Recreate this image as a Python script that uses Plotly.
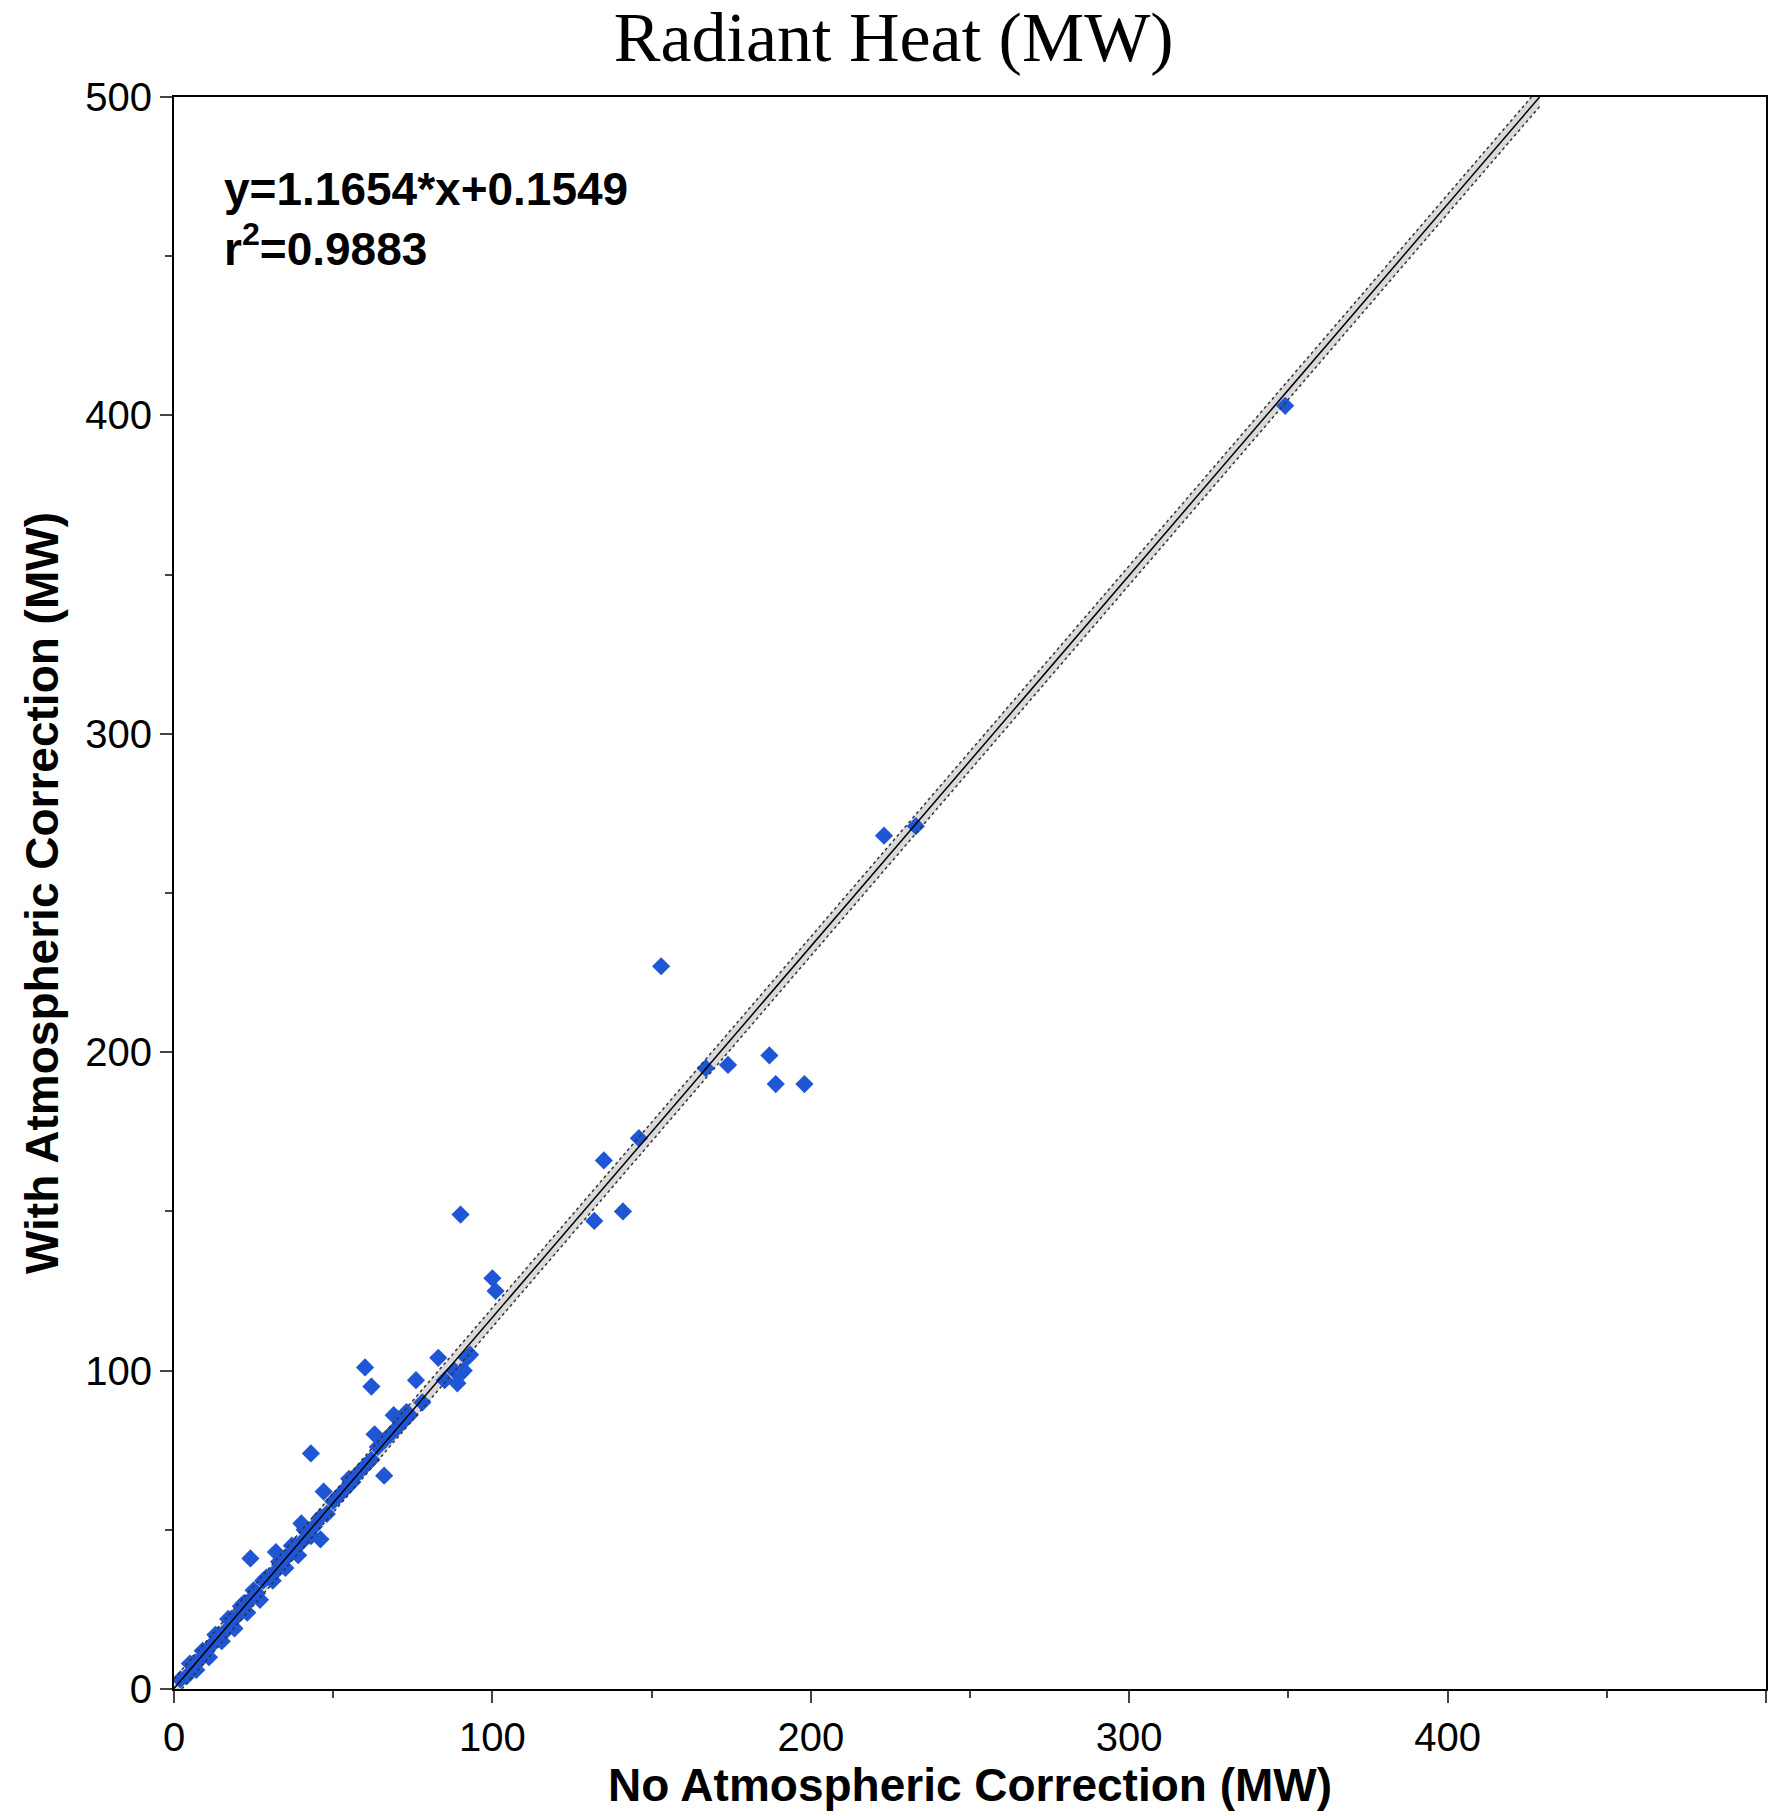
import plotly.graph_objects as go

cloud_x = [2,4,6,8,10,12,14,16,18,20,
           22,24,26,28,30,32,34,36,38,40,
           42,44,46,48,50,52,54,56,58,60,
           62,64,66,68,70,72,74,78,88,92,
           5,9,13,17,21,25,29,33,37,41,
           7,11,15,19,23,27,31,35,39,43,
           24,32,40,47,55,63,69,73,89,90]
cloud_y = [3,4,8,9,12,14,17,18,22,23,
           27,28,30,34,35,37,40,42,45,46,
           50,51,54,55,59,61,63,65,68,70,
           72,76,78,80,82,84,86,90,100,104,
           8,12,17,22,26,31,35,40,45,50,
           6,10,15,19,24,28,34,38,42,48,
           41,43,52,62,66,80,86,87,96,99]
out_x = [349,223,233,153,167,174,187,189,198,146,135,132,141,90,100,101,93,91,83,60,62,43,46,66,76,85]
out_y = [403,268,271,227,195,196,199,190,190,173,166,147,150,149,129,125,105,100,104,101,95,74,47,67,97,97]

slope = 1.1654
intercept = 0.1549
tick_vals = [0,100,200,300,400,500]

fit_x = [0, (500-intercept)/slope]
fit_y = [intercept + slope*v for v in fit_x]
band = 3.0

fig = go.Figure()
fig.add_trace(go.Scatter(x=fit_x+fit_x[::-1], y=[v+band for v in fit_y]+[v-band for v in fit_y[::-1]],
                         fill='toself', fillcolor='rgba(180,180,180,0.5)', line=dict(width=0), mode='lines', hoverinfo='skip'))
fig.add_trace(go.Scatter(x=cloud_x+out_x, y=cloud_y+out_y, mode='markers',
                         marker=dict(symbol='diamond', size=14, color='#1f56d6')))
for off in (band, -band):
    fig.add_trace(go.Scatter(x=fit_x, y=[v+off for v in fit_y], mode='lines',
                             line=dict(color='#333', width=1.5, dash='dot')))
fig.add_trace(go.Scatter(x=fit_x, y=fit_y, mode='lines', line=dict(color='black', width=1.5)))

axis_common = dict(range=[0,500.01], tickvals=tick_vals, ticks='outside', ticklen=12, tickwidth=2,
                   showline=True, linecolor='black', linewidth=2, mirror=True, showgrid=False, zeroline=False,
                   tickfont=dict(family='Liberation Sans, Arial', size=40, color='black'),
                   minor=dict(tickvals=[50,150,250,350,450], ticks='outside', ticklen=7, tickwidth=1.5))
fig.update_layout(
    width=1782, height=1816, showlegend=False, plot_bgcolor='white', paper_bgcolor='white',
    margin=dict(l=166, r=24, t=89, b=135),
    title=dict(text='Radiant Heat (MW)', x=0.497, xanchor='center', y=0.998, yanchor='top',
               font=dict(family='Liberation Serif, Times New Roman', size=70, color='black')),
    xaxis=dict(axis_common, title=dict(text='<b>No Atmospheric Correction (MW)</b>', standoff=6,
               font=dict(family='Liberation Sans, Arial', size=46, color='black'))),
    yaxis=dict(axis_common, title=dict(text='<b>With Atmospheric Correction (MW)</b>', standoff=12,
               font=dict(family='Liberation Sans, Arial', size=46, color='black'))),
)
fig.add_annotation(x=0.03, y=0.96, xref='paper', yref='paper', xanchor='left', yanchor='top', align='left',
                   showarrow=False,
                   text='<b>y=1.1654*x+0.1549<br>r<sup>2</sup>=0.9883</b>',
                   font=dict(family='Liberation Sans, Arial', size=46, color='black'))
fig.write_html('out.html')
